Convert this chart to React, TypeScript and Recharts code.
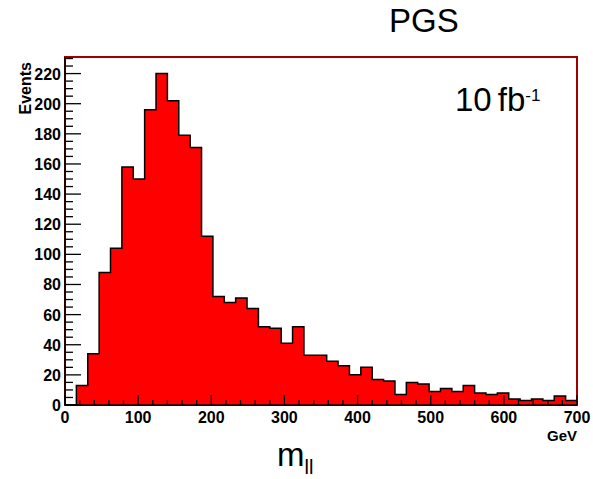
import { ComposedChart, Area, XAxis, YAxis, ReferenceArea } from 'recharts';

// 45 bins of equal width between 0 and 700 GeV
const X_MIN = 0;
const X_MAX = 700;
const BIN_COUNT = 45;

const binCounts = [
  0, 13, 34, 88, 104, 158, 150, 196, 220, 202,
  179, 171, 112, 72, 68, 71, 64, 52, 51, 41,
  52, 33, 33, 29, 26, 20, 25, 17, 16, 7,
  15, 14, 9, 11, 9, 13, 8, 7, 8, 4,
  3, 4, 3, 6, 3,
];

const xTicks = [0, 20, 40, 60, 80, 100, 120, 140, 160, 180, 200, 220, 240, 260, 280, 300, 320, 340, 360, 380, 400, 420, 440, 460, 480, 500, 520, 540, 560, 580, 600, 620, 640, 660, 680, 700];
const yTicks = [0, 5, 10, 15, 20, 25, 30, 35, 40, 45, 50, 55, 60, 65, 70, 75, 80, 85, 90, 95, 100, 105, 110, 115, 120, 125, 130, 135, 140, 145, 150, 155, 160, 165, 170, 175, 180, 185, 190, 195, 200, 205, 210, 215, 220, 225, 230];
const Y_MAX = 231;

const binWidth = (X_MAX - X_MIN) / BIN_COUNT;
// step points: left edge of each bin, plus a closing point at the right edge
const histData = [
  ...binCounts.map((n, i) => ({ x: X_MIN + i * binWidth, n })),
  { x: X_MAX, n: binCounts[binCounts.length - 1] },
];

const FONT = '"Liberation Sans", Arial, Helvetica, sans-serif';

const XTick = (props: any) => {
  const { x, y, payload } = props;
  const v = payload.value;
  const major = v % 100 === 0;
  return (
    <g>
      <line x1={x} x2={x} y1={y} y2={y - (major ? 10 : 5)} stroke="#000" strokeWidth={1.3} />
      {major && (
        <text x={x} y={y + 18} textAnchor="middle" fontFamily={FONT} fontWeight="bold" fontSize={16} fill="#000">
          {v}
        </text>
      )}
    </g>
  );
};

const YTick = (props: any) => {
  const { x, y, payload } = props;
  const v = payload.value;
  const major = v % 20 === 0;
  return (
    <g>
      <line x1={x} x2={x + (major ? 16 : 8)} y1={y} y2={y} stroke="#000" strokeWidth={1.3} />
      {major && (
        <text x={x - 4} y={y + 6} textAnchor="end" fontFamily={FONT} fontWeight="bold" fontSize={16} fill="#000">
          {v}
        </text>
      )}
    </g>
  );
};

export default function App() {
  return (
    <div style={{ position: 'absolute', left: 0, top: 0, width: 593, height: 479, background: '#fff' }}>
      <ComposedChart
        width={593}
        height={479}
        data={histData}
        margin={{ top: 57, right: 16, bottom: 0, left: 0 }}
      >
        <ReferenceArea x1={X_MIN} x2={X_MAX} y1={0} y2={Y_MAX} fill="none" stroke="#a00000" strokeWidth={2} />
        <Area
          type="stepAfter"
          dataKey="n"
          fill="#ff0000"
          fillOpacity={1}
          stroke="#000"
          strokeWidth={1.5}
          isAnimationActive={false}
          dot={false}
          activeDot={false}
        />
        <XAxis
          dataKey="x"
          type="number"
          domain={[X_MIN, X_MAX]}
          ticks={xTicks}
          interval={0}
          height={74}
          tickSize={0}
          tickMargin={0}
          tickLine={false}
          axisLine={{ stroke: '#000', strokeWidth: 1.5 }}
          tick={<XTick />}
        />
        <YAxis
          type="number"
          domain={[0, Y_MAX]}
          ticks={yTicks}
          interval={0}
          width={65}
          tickSize={0}
          tickMargin={0}
          tickLine={false}
          axisLine={{ stroke: '#000', strokeWidth: 1.5 }}
          tick={<YTick />}
        />
      </ComposedChart>
      <svg width={593} height={479} style={{ position: 'absolute', left: 0, top: 0, pointerEvents: 'none' }}>
        <text x={389} y={32} fontFamily={FONT} fontSize={33} fill="#000">PGS</text>
        <text x={455} y={111} fontFamily={FONT} fontSize={33} fill="#000">
          10<tspan dx={6}>fb</tspan>
          <tspan fontSize={17} dy={-10}>-1</tspan>
        </text>
        <text
          transform="translate(31,62) rotate(-90)"
          textAnchor="end"
          fontFamily={FONT}
          fontWeight="bold"
          fontSize={16}
          fill="#000"
        >
          Events
        </text>
        <text x={577} y={441} textAnchor="end" fontFamily={FONT} fontWeight="bold" fontSize={15} fill="#000">GeV</text>
        <text x={277} y={466} fontFamily={FONT} fontSize={33} fill="#000">
          m<tspan fontSize={20} dy={8}>ll</tspan>
        </text>
      </svg>
    </div>
  );
}
